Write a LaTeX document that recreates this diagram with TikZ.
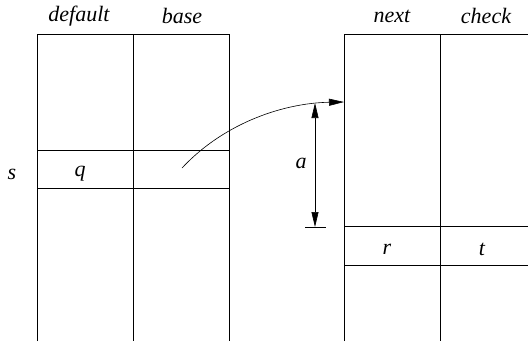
\documentclass[tikz,border=0pt]{standalone}
\usepackage{fontspec}
\setmainfont{Liberation Serif}
\usetikzlibrary{arrows.meta}
\begin{document}
\begin{tikzpicture}[x=1pt,y=-1pt,
  grid/.style={line width=0.7pt},
  lbl/.style={font=\rmfamily\itshape\fontsize{22}{24}\selectfont, inner sep=0pt},
  tip/.style={-{Triangle[length=15pt,width=7pt]}},
  thin/.style={line width=0.6pt}]
\useasboundingbox (0,0) rectangle (528,341);
% left table
\draw[grid] (37,341) -- (37,34) -- (229,34) -- (229,341);
\draw[grid] (133,34) -- (133,341);
\draw[grid] (37,150) -- (229,150);
\draw[grid] (37,188) -- (229,188);
% right table
\draw[grid] (344,341) -- (344,34) -- (528,34);
\draw[grid] (440,34) -- (440,341);
\draw[grid] (344,226) -- (528,226);
\draw[grid] (344,265) -- (528,265);
% labels
\node[lbl] (hdef) at (79,16) {default};
\node[lbl] (hbase) at (182,16) {base};
\node[lbl] (hnext) at (392,16) {next};
\node[lbl] (hcheck) at (486,16) {check};
\node[lbl] (ls) at (12,174) {s};
\node[lbl] (lq) at (80,174) {q};
\node[lbl] (la) at (301,163) {a};
\node[lbl] (lr) at (387,249) {r};
\node[lbl] (lt) at (482,249) {t};
% arrows
\coordinate (cstart) at (182,168);
\coordinate (cend) at (344,102);
\coordinate (atop) at (315,103);
\coordinate (abot) at (315,227);
\coordinate (tickl) at (305,227);
\coordinate (tickr) at (326,227);
\draw[thin,tip] (cstart) .. controls (225,122) and (285,103) .. (cend);
\draw[thin,{Triangle[length=15pt,width=7pt]}-{Triangle[length=15pt,width=7pt]}] (atop) -- (abot);
\draw[thin] (tickl) -- (tickr);
\end{tikzpicture}
\end{document}
